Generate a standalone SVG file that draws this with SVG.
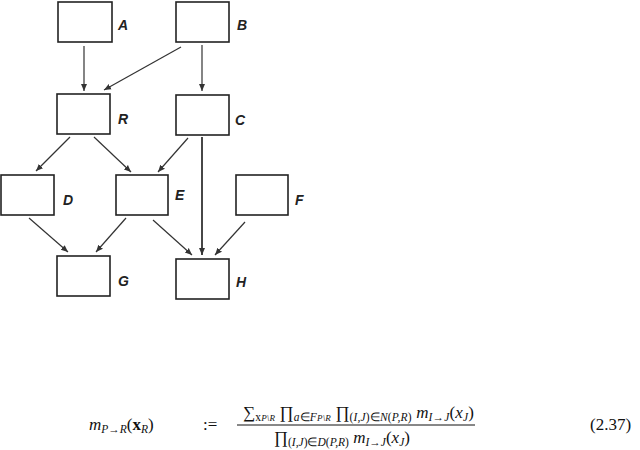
<svg xmlns="http://www.w3.org/2000/svg" width="640" height="450" viewBox="0 0 640 450">
<style>
.n{fill:#fff;stroke:#222;stroke-width:1.6}
.l{font-family:"Liberation Sans",Arial,sans-serif;font-weight:bold;font-style:italic;font-size:14px;fill:#222}
.c line{stroke:#333;stroke-width:1.2;marker-end:url(#ar)}
.m{font-family:"Liberation Serif","Times New Roman",serif;font-size:17px;fill:#111}
.i{font-style:italic}
.s{font-size:11.5px}
.t{font-size:9px}
</style>
<defs><marker id="ar" markerWidth="8" markerHeight="8" refX="7" refY="4" orient="auto" markerUnits="userSpaceOnUse"><path d="M0,1 L7,4 L0,7z" fill="#333"/></marker></defs>
<g class="c">
<line x1="84" y1="46" x2="84" y2="91"/>
<line x1="181" y1="47" x2="104" y2="90"/>
<line x1="202" y1="45" x2="202" y2="91"/>
<line x1="70" y1="137" x2="36" y2="171"/>
<line x1="94" y1="137" x2="131" y2="172"/>
<line x1="188" y1="138" x2="158" y2="172"/>
<line x1="202" y1="137" x2="202" y2="255" style="stroke-width:1.8"/>
<line x1="29" y1="218" x2="68" y2="252"/>
<line x1="126" y1="218" x2="96" y2="252"/>
<line x1="153" y1="220" x2="192" y2="255"/>
<line x1="245" y1="222" x2="215" y2="255"/>
</g>
<g id="A"><rect class="n" x="58" y="2" width="54" height="40"/><text class="l" x="118" y="30">A</text></g>
<g id="B"><rect class="n" x="176" y="2" width="53" height="40"/><text class="l" x="237" y="30">B</text></g>
<g id="R"><rect class="n" x="57" y="94" width="53" height="40"/><text class="l" x="118" y="124">R</text></g>
<g id="C"><rect class="n" x="176" y="95" width="53" height="40"/><text class="l" x="235" y="125">C</text></g>
<g id="D"><rect class="n" x="1" y="175" width="53" height="40"/><text class="l" x="63" y="205">D</text></g>
<g id="E"><rect class="n" x="116" y="175" width="52" height="40"/><text class="l" x="175" y="200">E</text></g>
<g id="F"><rect class="n" x="236" y="175" width="52" height="40"/><text class="l" x="295" y="205">F</text></g>
<g id="G"><rect class="n" x="57" y="256" width="53" height="40"/><text class="l" x="118" y="286">G</text></g>
<g id="H"><rect class="n" x="176" y="259" width="53" height="40"/><text class="l" x="236" y="287">H</text></g>
<g id="formula">
<text class="m" x="89" y="430"><tspan class="i">m</tspan><tspan class="s i" dy="3">P</tspan><tspan class="s">→</tspan><tspan class="s i">R</tspan><tspan dy="-3">(</tspan><tspan font-weight="bold">x</tspan><tspan class="s i" dy="3">R</tspan><tspan dy="-3">)</tspan></text>
<text class="m" x="203" y="430">:=</text>
<text class="m" x="243" y="418" textLength="231" lengthAdjust="spacing">∑<tspan class="s" dy="3">x</tspan><tspan class="t i">P\R</tspan><tspan dy="-3"> ∏</tspan><tspan class="s i" dy="3">a</tspan><tspan class="s">∈</tspan><tspan class="s i">F</tspan><tspan class="t i">P\R</tspan><tspan dy="-3"> ∏</tspan><tspan class="s" dy="3">(</tspan><tspan class="s i">I,J</tspan><tspan class="s">)∈</tspan><tspan class="s i">N</tspan><tspan class="s">(</tspan><tspan class="s i">P,R</tspan><tspan class="s">)</tspan><tspan class="i" dy="-3"> m</tspan><tspan class="s i" dy="3">I</tspan><tspan class="s">→</tspan><tspan class="s i">J</tspan><tspan dy="-3">(</tspan><tspan class="i">x</tspan><tspan class="s i" dy="3">J</tspan><tspan dy="-3">)</tspan></text>
<line x1="237" y1="425" x2="475" y2="425" stroke="#111" stroke-width="1"/>
<text class="m" x="274" y="443">∏<tspan class="s" dy="3">(</tspan><tspan class="s i">I,J</tspan><tspan class="s">)∈</tspan><tspan class="s i">D</tspan><tspan class="s">(</tspan><tspan class="s i">P,R</tspan><tspan class="s">)</tspan><tspan class="i" dy="-3"> m</tspan><tspan class="s i" dy="3">I</tspan><tspan class="s">→</tspan><tspan class="s i">J</tspan><tspan dy="-3">(</tspan><tspan class="i">x</tspan><tspan class="s i" dy="3">J</tspan><tspan dy="-3">)</tspan></text>
<text class="m" x="590" y="430">(2.37)</text>
</g>
</svg>
